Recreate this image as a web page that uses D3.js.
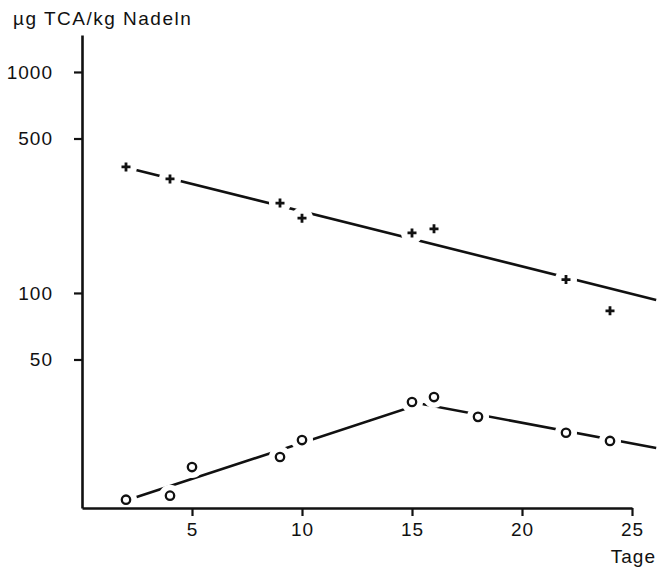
<!DOCTYPE html>
<html>
<head>
<meta charset="utf-8">
<script src="https://cdnjs.cloudflare.com/ajax/libs/d3/7.8.5/d3.min.js"></script>
<style>
  body { margin: 0; background: #fff; }
  text { font-family: "Liberation Sans", Arial, sans-serif; fill: #111; }
</style>
</head>
<body>
<div id="chart-area"></div>
<script>
// DATEN

// Kreuze
let plusTage = [2, 4, 9, 10, 15, 16, 22, 24]
let plusWerte = [372, 328, 255, 218, 187, 195, 115, 83]

// Kreise
let kreisTage = [2, 4, 5, 9, 10, 15, 16, 18, 22, 24]
let kreisWerte = [11.6, 12.1, 16.3, 18.1, 21.6, 32.1, 33.8, 27.5, 23.3, 21.4]

// Ausgleichslinien
let plusFitTage = [2, 26.1]
let plusFitWerte = [370, 93]
let kreisFitTage = [2, 15.4, 26.1]
let kreisFitWerte = [11.5, 31.5, 19.9]

// Achsen
let xTicks = [5, 10, 15, 20, 25]
let yTicks = [50, 100, 500, 1000]

let width = 662
let height = 571

let svg = d3.select("#chart-area").append("svg")
            .attr("width", width)
            .attr("height", height)

let x = d3.scaleLinear()
          .domain([0, 25])
          .range([82, 632])

let y = d3.scaleLog()
          .domain([10.64, 1470])
          .range([508, 35])

let ink = "#111"
let font = "Liberation Sans, Arial, sans-serif"

// Linien
let line = d3.line()
             .x(d => x(d[0]))
             .y(d => y(d[1]))

svg.append("path")
   .datum(d3.zip(plusFitTage, plusFitWerte))
   .attr("d", line)
   .attr("fill", "none")
   .attr("stroke", ink)
   .attr("stroke-width", 2.6)

svg.append("path")
   .datum(d3.zip(kreisFitTage, kreisFitWerte))
   .attr("d", line)
   .attr("fill", "none")
   .attr("stroke", ink)
   .attr("stroke-width", 2.6)

// Luecken um die Messpunkte
let alle = d3.zip(plusTage, plusWerte).concat(d3.zip(kreisTage, kreisWerte))
svg.selectAll("circle.luecke")
   .data(alle)
   .enter()
   .append("circle")
   .attr("class", "luecke")
   .attr("cx", d => x(d[0]))
   .attr("cy", d => y(d[1]))
   .attr("r", 11)
   .attr("fill", "#fff")

// y-Achse
let yAxis = svg.append("g")
               .attr("transform", "translate(82,0)")
               .call(d3.axisLeft(y)
                        .tickValues(yTicks)
                        .tickFormat(d3.format("d"))
                        .tickSize(8)
                        .tickSizeOuter(0)
                        .tickPadding(21))
yAxis.select(".domain").attr("stroke", ink).attr("stroke-width", 2.6)
yAxis.selectAll(".tick line").attr("stroke", ink).attr("stroke-width", 2.2)
yAxis.selectAll(".tick text")
     .attr("font-size", 19)
     .attr("letter-spacing", 1)
     .attr("font-family", font)
     .attr("fill", ink)

// x-Achse
let xAxis = svg.append("g")
               .attr("transform", "translate(0,508)")
               .call(d3.axisBottom(x)
                        .tickValues(xTicks)
                        .tickSize(8)
                        .tickSizeOuter(0)
                        .tickPadding(7))
xAxis.select(".domain").attr("stroke", ink).attr("stroke-width", 2.6)
xAxis.selectAll(".tick line").attr("stroke", ink).attr("stroke-width", 2.2)
xAxis.selectAll(".tick text")
     .attr("font-size", 19)
     .attr("letter-spacing", 1)
     .attr("font-family", font)
     .attr("fill", ink)

// Beschriftungen
svg.append("text")
   .attr("x", 13)
   .attr("y", 25)
   .attr("font-size", 19)
   .attr("letter-spacing", 1.5)
   .text("\u00b5g TCA/kg Nadeln")

svg.append("text")
   .attr("x", 656)
   .attr("y", 563)
   .attr("text-anchor", "end")
   .attr("font-size", 19)
   .attr("letter-spacing", 1)
   .text("Tage")

// Kreuze
svg.selectAll("path.plus")
   .data(d3.zip(plusTage, plusWerte))
   .enter()
   .append("path")
   .attr("class", "plus")
   .attr("transform", d => "translate(" + x(d[0]) + "," + y(d[1]) + ")")
   .attr("d", "M-4.5,0H4.5M0,-4.5V4.5")
   .attr("stroke", ink)
   .attr("stroke-width", 2.8)

// Kreise
svg.selectAll("circle.kreis")
   .data(d3.zip(kreisTage, kreisWerte))
   .enter()
   .append("circle")
   .attr("class", "kreis")
   .attr("cx", d => x(d[0]))
   .attr("cy", d => y(d[1]))
   .attr("r", 4.2)
   .attr("fill", "#fff")
   .attr("stroke", ink)
   .attr("stroke-width", 2.3)
</script>
</body>
</html>
